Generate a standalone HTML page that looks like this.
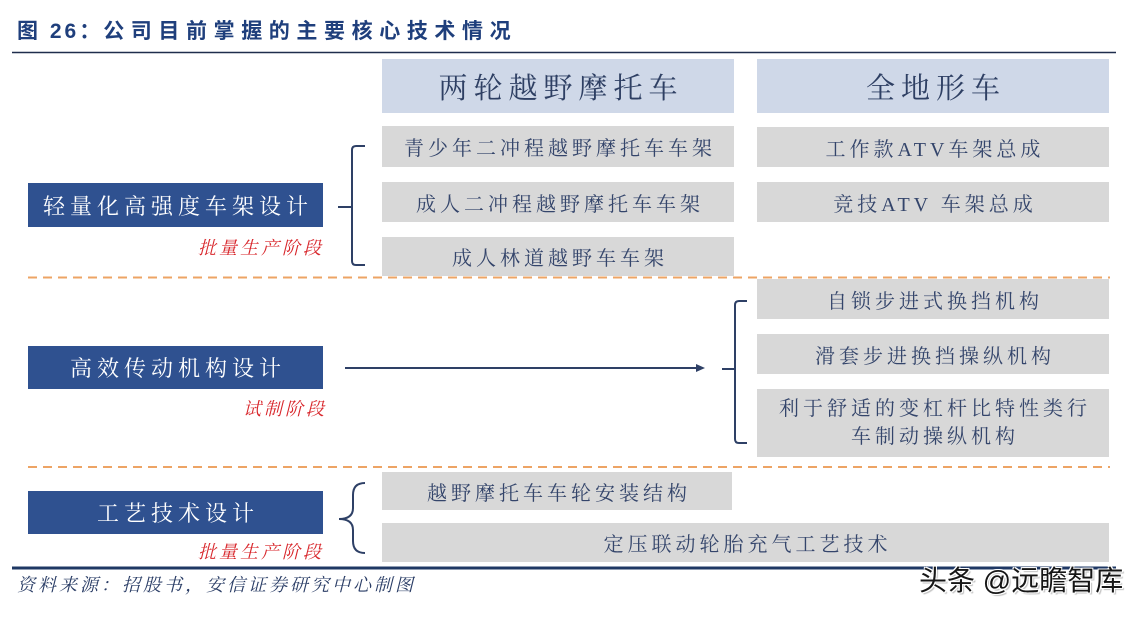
<!DOCTYPE html>
<html>
<head>
<meta charset="utf-8">
<style>
html,body{margin:0;padding:0;background:#fff;}
body{width:1148px;height:617px;position:relative;overflow:hidden;}
.abs{position:absolute;}
.title{left:17px;top:19px;font-family:"Liberation Sans","Noto Sans CJK SC",sans-serif;font-weight:700;font-size:21px;color:#1f3f7c;letter-spacing:6.6px;white-space:nowrap;line-height:26px;}
.title .pre{letter-spacing:3px;}
.box{position:absolute;display:flex;align-items:center;justify-content:center;white-space:nowrap;font-family:"Liberation Serif","Noto Serif CJK SC",serif;}
.hdr{background:#cfd8e8;color:#2e3f63;font-size:29px;letter-spacing:6px;padding-left:6px;box-sizing:border-box;}
.gry{background:#d8d8d8;color:#34456b;font-size:20px;letter-spacing:4px;padding-left:4px;box-sizing:border-box;}
.blu{background:#2f5190;color:#fff;font-size:22px;letter-spacing:5px;padding-left:5px;box-sizing:border-box;}
.red{position:absolute;font-family:"Liberation Serif","Noto Serif CJK SC",serif;font-style:italic;color:#d8262b;font-size:18px;letter-spacing:3px;white-space:nowrap;line-height:20px;}
.src{left:17px;top:574px;font-family:"Liberation Serif","Noto Serif CJK SC",serif;font-style:italic;color:#2a3d66;font-size:18px;letter-spacing:3px;white-space:nowrap;line-height:22px;}
.wm{left:919px;top:563px;font-family:"Liberation Sans","Noto Sans CJK SC",sans-serif;font-size:28px;color:#161616;white-space:nowrap;line-height:36px;
text-shadow:1px 1px 0 #fff,-1px -1px 0 #fff,1px -1px 0 #fff,-1px 1px 0 #fff,2px 2px 1px rgba(0,0,0,0.25);}
</style>
</head>
<body>
<div class="abs title"><span class="pre">图 26：</span>公司目前掌握的主要核心技术情况</div>

<svg class="abs" style="left:0;top:0" width="1148" height="617" viewBox="0 0 1148 617">
  <line x1="12" y1="52.5" x2="1116" y2="52.5" stroke="#1f2d4d" stroke-width="1.6"/>
  <line x1="28" y1="277.5" x2="1110" y2="277.5" stroke="#eda465" stroke-width="2" stroke-dasharray="9 6"/>
  <line x1="28" y1="467" x2="1110" y2="467" stroke="#eda465" stroke-width="2" stroke-dasharray="9 6"/>
  <line x1="12" y1="568" x2="1116" y2="568" stroke="#1f3864" stroke-width="3"/>
  <!-- bracket 1 -->
  <path d="M365 146 L356 146 Q352 146 352 150 L352 261 Q352 265 356 265 L365 265" fill="none" stroke="#2e4066" stroke-width="2"/>
  <line x1="338" y1="207" x2="352" y2="207" stroke="#2e4066" stroke-width="2"/>
  <!-- bracket 2 -->
  <path d="M747 301 L739 301 Q735 301 735 305 L735 439 Q735 443 739 443 L747 443" fill="none" stroke="#2e4066" stroke-width="2"/>
  <line x1="722" y1="369" x2="735" y2="369" stroke="#2e4066" stroke-width="2"/>
  <!-- arrow -->
  <line x1="345" y1="368" x2="698" y2="368" stroke="#2e4066" stroke-width="2"/>
  <polygon points="705,368 696,364 696,372" fill="#2e4066"/>
  <!-- bracket 3 curly -->
  <path d="M365 483 Q353 483 353 495 L353 508 Q353 519 339 519 Q353 519 353 530 L353 541 Q353 553 365 553" fill="none" stroke="#2e4066" stroke-width="2"/>
</svg>

<!-- header boxes -->
<div class="box hdr" style="left:382px;top:59px;width:352px;height:54px;">两轮越野摩托车</div>
<div class="box hdr" style="left:757px;top:59px;width:352px;height:54px;">全地形车</div>

<!-- row boxes left -->
<div class="box gry" style="left:382px;top:126px;width:352px;height:41px;">青少年二冲程越野摩托车车架</div>
<div class="box gry" style="left:382px;top:182px;width:352px;height:40px;">成人二冲程越野摩托车车架</div>
<div class="box gry" style="left:382px;top:237px;width:352px;height:39px;">成人林道越野车车架</div>

<!-- row boxes right -->
<div class="box gry" style="left:757px;top:127px;width:352px;height:40px;">工作款ATV车架总成</div>
<div class="box gry" style="left:757px;top:182px;width:352px;height:40px;">竞技ATV 车架总成</div>

<div class="box gry" style="left:757px;top:279px;width:352px;height:40px;">自锁步进式换挡机构</div>
<div class="box gry" style="left:757px;top:334px;width:352px;height:40px;">滑套步进换挡操纵机构</div>
<div class="box gry" style="left:757px;top:389px;width:352px;height:68px;flex-direction:column;line-height:28px;">
  <div>利于舒适的变杠杆比特性类行</div>
  <div>车制动操纵机构</div>
</div>

<div class="box gry" style="left:382px;top:472px;width:350px;height:38px;">越野摩托车车轮安装结构</div>
<div class="box gry" style="left:382px;top:523px;width:727px;height:39px;">定压联动轮胎充气工艺技术</div>

<!-- blue boxes -->
<div class="box blu" style="left:28px;top:183px;width:295px;height:44px;">轻量化高强度车架设计</div>
<div class="box blu" style="left:28px;top:346px;width:295px;height:43px;">高效传动机构设计</div>
<div class="box blu" style="left:28px;top:491px;width:295px;height:43px;">工艺技术设计</div>

<div class="red" style="left:198px;top:238px;">批量生产阶段</div>
<div class="red" style="left:243px;top:399px;">试制阶段</div>
<div class="red" style="left:198px;top:542px;">批量生产阶段</div>

<div class="abs src">资料来源：招股书，安信证券研究中心制图</div>
<div class="abs wm">头条 @远瞻智库</div>
</body>
</html>
